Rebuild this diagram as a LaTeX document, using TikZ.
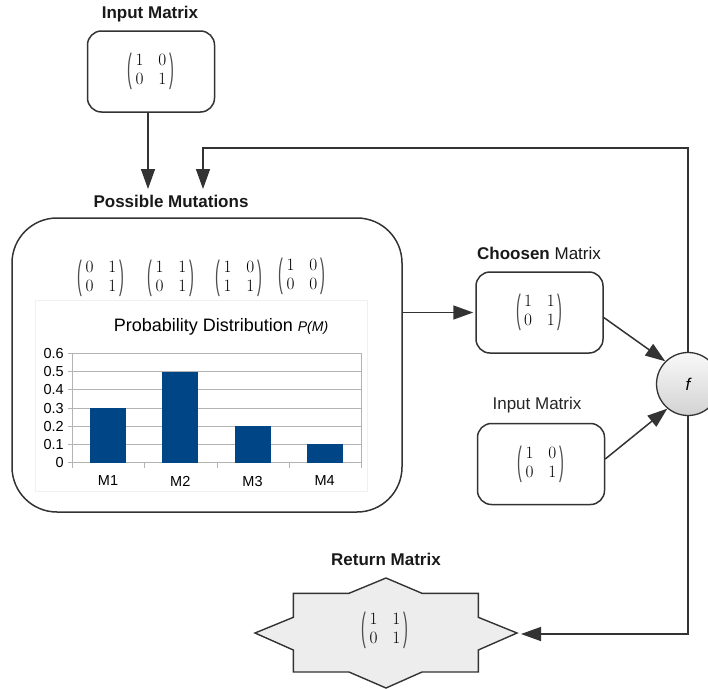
\documentclass[tikz,border=0pt]{standalone}
\usepackage[no-math]{fontspec}
\setmainfont{Liberation Sans}
\usepackage{amsmath}
\usetikzlibrary{arrows.meta, positioning}
\definecolor{linegray}{HTML}{333333}
\definecolor{barblue}{HTML}{004586}
\definecolor{gridgray}{HTML}{B3B3B3}
\newcommand{\tallparen}[1]{\vcenter{\hbox{\color{black!70}\scalebox{0.9}[2.45]{#1}}}}
\newcommand{\mtx}[4]{\fontsize{16}{19}\selectfont$\setlength{\arraycolsep}{7.5pt}\tallparen{(}\mkern3mu\begin{matrix}#1&#2\\#3&#4\end{matrix}\mkern3mu\tallparen{)}$}
\tikzset{
	matbox/.style={draw=linegray, line width=1.5pt, rounded corners=14pt, minimum width=127pt, minimum height=81pt, inner sep=0pt},
	title/.style={font=\fontsize{17}{20}\selectfont\bfseries, text=black!90},
	plain/.style={font=\fontsize{17}{20}\selectfont, text=black!85},
	link/.style={draw=linegray, line width=1.5pt, -{Triangle[length=20pt,width=14pt]}},
	axislbl/.style={font=\fontsize{14.5}{17}\selectfont, inner sep=0pt},
	bar/.style={fill=barblue, draw=none}
}

\begin{document}
\begin{tikzpicture}[x=1pt, y=-1pt]
	\useasboundingbox (0,0) rectangle (708,688);

	% ==========================================
	% INPUT MATRIX
	% ==========================================
	\node[title] (intitle) at (150,14) {Input Matrix};
	\node[matbox] (inbox) at (151,71.5) {\mtx1001};

	% ==========================================
	% POSSIBLE MUTATIONS
	% ==========================================
	\node[title] (muttitle) at (171,201) {Possible Mutations};
	\node[draw=linegray, line width=1.5pt, rounded corners=45pt, minimum width=390pt, minimum height=294pt] (mutbox) at (207,365) {};

	\node (mut1) at (101,278) {\mtx0101};
	\node (mut2) at (171,278) {\mtx1101};
	\node (mut3) at (239,278) {\mtx1011};
	\node (mut4) at (302,276) {\mtx1000};

	% --- chart ---
	\draw[draw=gray!12, fill=white] (35,300) rectangle (367,491);
	\node[font=\fontsize{18}{21}\selectfont] (charttitle) at (221,327) {Probability Distribution {\fontsize{14}{16}\selectfont\itshape P(M)}};
	\foreach \k/\lbl in {0/0,1/0.1,2/0.2,3/0.3,4/0.4,5/0.5,6/0.6} {
		\draw[gridgray, line width=0.8pt] (68,462.7-18.23*\k) -- (361,462.7-18.23*\k);
		\node[axislbl, anchor=east] at (64,462.7-18.23*\k) {\lbl};
	}
	\draw[gridgray, line width=0.8pt] (72.7,353.3) -- (72.7,462.7);
	\draw[gridgray, line width=0.8pt] (361,353.3) -- (361,462.7);
	\foreach \x in {72.7,144.8,217,289,361} \draw[gridgray, line width=0.8pt] (\x,462.7) -- (\x,468);
	\foreach \c/\v/\lbl in {108/0.3/M1, 180.3/0.5/M2, 252.5/0.2/M3, 324.7/0.1/M4} {
		\fill[bar] (\c-18,462.7) rectangle (\c+18,462.7-182.3*\v);
		\node[axislbl] at (\c,481) {\lbl};
	}

	% ==========================================
	% CHOOSEN / INPUT MATRIX
	% ==========================================
	\node[font=\fontsize{17}{20}\selectfont, text=black!90] (chtitle) at (539,253) {\textbf{Choosen} Matrix};
	\node[matbox] (chosen) at (539.5,312.5) {\mtx1101};
	\node[plain] (in2title) at (537,405) {Input Matrix};
	\node[matbox] (inbox2) at (541,464) {\mtx1001};

	% --- function node ---
	\node[circle, draw=linegray, line width=1.3pt, minimum size=63pt, inner sep=0pt, top color=gray!5, bottom color=gray!35, font=\fontsize{17}{20}\selectfont\itshape] (fn) at (688,384) {f};

	% ==========================================
	% RETURN MATRIX
	% ==========================================
	\node[title] (rettitle) at (386,559) {Return Matrix};
	\draw[draw=linegray, line width=1.4pt, fill=gray!14, line join=miter]
		(386,578) -- (422,593.3) -- (478.3,593.3) -- (478.3,617.3) -- (517,633) -- (478.3,650) -- (478.3,672) -- (422,672)
		-- (386,688) -- (349,672) -- (293.3,672) -- (293.3,650) -- (255,633) -- (293.3,617.3) -- (293.3,593.3) -- (349,593.3) -- cycle;
	\node (retmat) at (385,630) {\mtx1101};

	% ==========================================
	% CONNECTORS
	% ==========================================
	\coordinate (inin) at (148,189);
	\coordinate (fbcorner) at (203,148);
	\coordinate (fbin) at (203,189);
	\coordinate (retin) at (521,634);

	\draw[link] (inin |- inbox.south) -- (inin);
	\draw[link] (fn.north) |- (fbcorner) -- (fbin);
	\draw[link, shorten >=2pt] (mutbox.east |- chosen.west) -- (chosen.west);
	\draw[link] ([yshift=-5pt]chosen.east) -- (fn.135);
	\draw[link] ([yshift=5pt]inbox2.east) -- (fn.-130);
	\draw[link] (fn.south) |- (retin);

\end{tikzpicture}
\end{document}
